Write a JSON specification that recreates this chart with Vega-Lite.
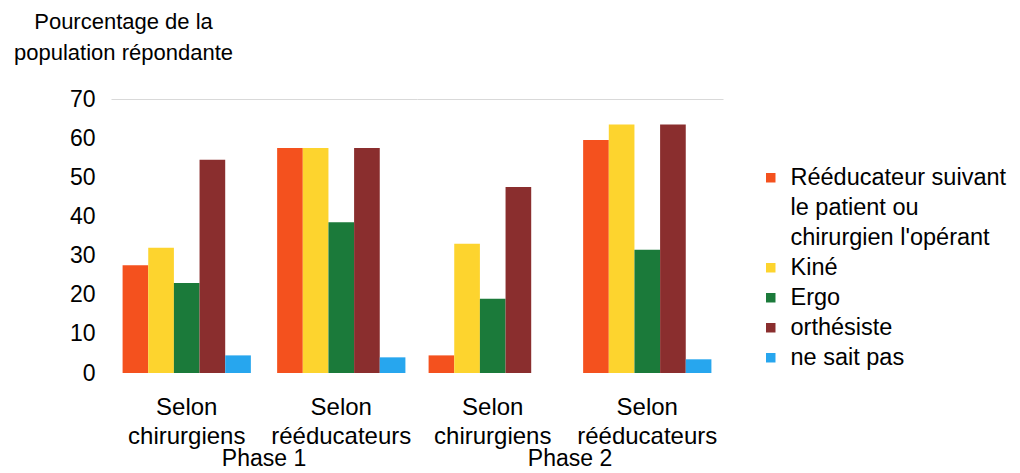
{
  "$schema": "https://vega.github.io/schema/vega-lite/v6.json",
  "background": "white",
  "padding": {"left": 13, "top": 10, "right": 5, "bottom": 0},
  "data": {
    "values": [
      {"phase": "Phase 1", "source": "Selon chirurgiens", "categorie": "Rééducateur suivant le patient ou chirurgien l'opérant", "valeur": 27.5},
      {"phase": "Phase 1", "source": "Selon chirurgiens", "categorie": "Kiné", "valeur": 32},
      {"phase": "Phase 1", "source": "Selon chirurgiens", "categorie": "Ergo", "valeur": 23},
      {"phase": "Phase 1", "source": "Selon chirurgiens", "categorie": "orthésiste", "valeur": 54.5},
      {"phase": "Phase 1", "source": "Selon chirurgiens", "categorie": "ne sait pas", "valeur": 4.5},
      {"phase": "Phase 1", "source": "Selon rééducateurs", "categorie": "Rééducateur suivant le patient ou chirurgien l'opérant", "valeur": 57.5},
      {"phase": "Phase 1", "source": "Selon rééducateurs", "categorie": "Kiné", "valeur": 57.5},
      {"phase": "Phase 1", "source": "Selon rééducateurs", "categorie": "Ergo", "valeur": 38.5},
      {"phase": "Phase 1", "source": "Selon rééducateurs", "categorie": "orthésiste", "valeur": 57.5},
      {"phase": "Phase 1", "source": "Selon rééducateurs", "categorie": "ne sait pas", "valeur": 4},
      {"phase": "Phase 2", "source": "Selon chirurgiens", "categorie": "Rééducateur suivant le patient ou chirurgien l'opérant", "valeur": 4.5},
      {"phase": "Phase 2", "source": "Selon chirurgiens", "categorie": "Kiné", "valeur": 33},
      {"phase": "Phase 2", "source": "Selon chirurgiens", "categorie": "Ergo", "valeur": 19},
      {"phase": "Phase 2", "source": "Selon chirurgiens", "categorie": "orthésiste", "valeur": 47.5},
      {"phase": "Phase 2", "source": "Selon chirurgiens", "categorie": "ne sait pas", "valeur": 0},
      {"phase": "Phase 2", "source": "Selon rééducateurs", "categorie": "Rééducateur suivant le patient ou chirurgien l'opérant", "valeur": 59.5},
      {"phase": "Phase 2", "source": "Selon rééducateurs", "categorie": "Kiné", "valeur": 63.5},
      {"phase": "Phase 2", "source": "Selon rééducateurs", "categorie": "Ergo", "valeur": 31.5},
      {"phase": "Phase 2", "source": "Selon rééducateurs", "categorie": "orthésiste", "valeur": 63.5},
      {"phase": "Phase 2", "source": "Selon rééducateurs", "categorie": "ne sait pas", "valeur": 3.5}
    ]
  },
  "facet": {
    "column": {
      "field": "phase",
      "type": "nominal",
      "header": {
        "title": null,
        "labelOrient": "bottom",
        "labelFont": "Liberation Sans",
        "labelFontSize": 23,
        "labelColor": "#000",
        "labelPadding": 0
      }
    }
  },
  "spacing": 0,
  "spec": {
    "width": 306,
    "height": 274,
    "mark": {"type": "bar"},
    "encoding": {
      "x": {
        "field": "source",
        "type": "nominal",
        "scale": {"paddingInner": 0.17, "paddingOuter": 0.075},
        "axis": {
          "title": null,
          "labelAngle": 0,
          "labelExpr": "split(datum.label, ' ')",
          "labelFont": "Liberation Sans",
          "labelFontSize": 24,
          "labelLineHeight": 29,
          "labelColor": "#000",
          "labelPadding": 22,
          "labelLimit": 300,
          "domain": false,
          "ticks": false
        }
      },
      "xOffset": {
        "field": "categorie",
        "type": "nominal",
        "sort": ["Rééducateur suivant le patient ou chirurgien l'opérant", "Kiné", "Ergo", "orthésiste", "ne sait pas"],
        "scale": {"paddingInner": 0, "paddingOuter": 0}
      },
      "y": {
        "field": "valeur",
        "type": "quantitative",
        "scale": {"domain": [0, 70], "nice": false},
        "axis": {
          "values": [0, 10, 20, 30, 40, 50, 60, 70],
          "title": ["Pourcentage de la", "population répondante"],
          "titleAngle": 0,
          "titleAlign": "center",
          "titleBaseline": "alphabetic",
          "titleX": 12,
          "titleY": -71,
          "titleFont": "Liberation Sans",
          "titleFontSize": 22,
          "titleFontWeight": "normal",
          "titleLineHeight": 31,
          "titleColor": "#000",
          "labelFont": "Liberation Sans",
          "labelFontSize": 23,
          "labelColor": "#000",
          "labelPadding": 16,
          "domain": false,
          "ticks": false,
          "grid": true,
          "gridColor": {"condition": {"test": "datum.value == 70", "value": "#d9d9d9"}, "value": "transparent"},
          "gridWidth": 1
        }
      },
      "color": {
        "field": "categorie",
        "type": "nominal",
        "scale": {
          "domain": ["Rééducateur suivant le patient ou chirurgien l'opérant", "Kiné", "Ergo", "orthésiste", "ne sait pas"],
          "range": ["#F4511E", "#FDD42E", "#1B7A3A", "#8A2E2E", "#27A6EE"]
        },
        "legend": {
          "title": null,
          "orient": "none",
          "legendX": 648,
          "legendY": 67,
          "symbolType": "square",
          "symbolSize": 90,
          "symbolStrokeWidth": 0,
          "labelFont": "Liberation Sans",
          "labelFontSize": 23.5,
          "labelColor": "#000",
          "labelLimit": 400,
          "labelOffset": 8,
          "rowPadding": 5,
          "labelExpr": "indexof(datum.label, 'Rééducateur') == 0 ? [\"Rééducateur suivant\", \"le patient ou\", \"chirurgien l'opérant\"] : datum.label",
          "encode": {"labels": {"update": {"lineHeight": {"value": 30}}}}
        }
      }
    }
  },
  "config": {
    "view": {"stroke": null}
  }
}
